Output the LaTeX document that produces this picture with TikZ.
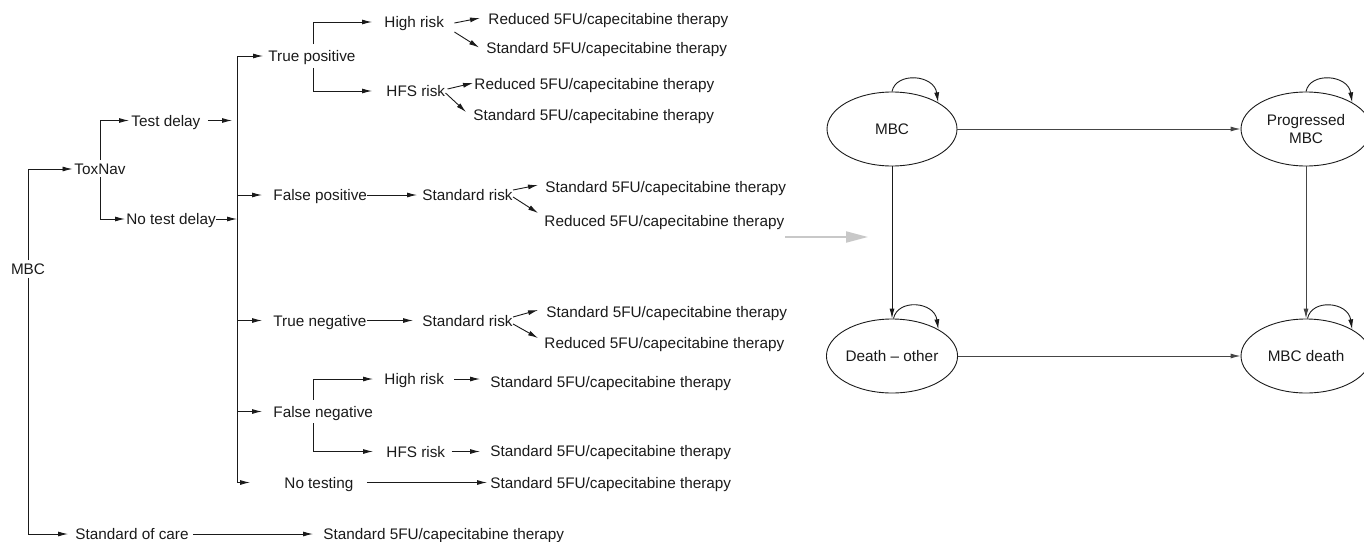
\documentclass[tikz,border=0pt]{standalone}
\usepackage{fontspec}
\setmainfont{Liberation Sans}
\usetikzlibrary{arrows.meta,shapes.geometric}
\definecolor{lnk}{HTML}{454545}
\definecolor{ghost}{HTML}{C8C8C8}
\definecolor{ink}{HTML}{1A1A1A}
\begin{document}
\begin{tikzpicture}[x=1pt,y=-1pt, line width=0.9pt, draw=ink,
  txt/.style={font=\fontsize{15.3}{18}\selectfont, text=ink, inner sep=0pt, text height=11pt, text depth=0pt, anchor=west},
  hub/.style={txt, inner ysep=6pt},
  arr/.style={-{Latex[length=10pt,width=5pt]}},
  arrg/.style={arr, draw=lnk},
  state/.style={ellipse, draw=ink, text=ink, line width=0.9pt, minimum width=130pt, minimum height=74pt, inner sep=0pt, align=center, font=\fontsize{15.3}{18}\selectfont}
]
\useasboundingbox (0,0) rectangle (1364,541);

% ---- decision tree nodes ----
\node[txt, anchor=center, inner ysep=3pt] (mbc) at (28,269) {MBC};
\node[hub, anchor=center, inner ysep=6pt] (tox) at (100,169) {ToxNav};
\node[txt] (soc) at (75,534) {Standard of care};
\node[txt] (socT) at (323,534) {Standard 5FU/capecitabine therapy};
\node[txt] (td) at (131,120.5) {Test delay};
\node[txt] (ntd) at (126,219) {No test delay};
\node[hub] (tp) at (268,56) {True positive};
\node[txt] (fp) at (273,195) {False positive};
\node[txt] (tn) at (273,320.5) {True negative};
\node[hub] (fn) at (273,411.5) {False negative};
\node[txt] (nt) at (284,482.5) {No testing};

\node[txt] (hra) at (384,22) {High risk};
\node[txt] (hraR) at (488,19) {Reduced 5FU/capecitabine therapy};
\node[txt] (hraS) at (486,47.5) {Standard 5FU/capecitabine therapy};
\node[txt] (hfa) at (386,91) {HFS risk};
\node[txt] (hfaR) at (474,84) {Reduced 5FU/capecitabine therapy};
\node[txt] (hfaS) at (473,115) {Standard 5FU/capecitabine therapy};

\node[txt] (sra) at (422,195) {Standard risk};
\node[txt] (sraS) at (545,187) {Standard 5FU/capecitabine therapy};
\node[txt] (sraR) at (544,221) {Reduced 5FU/capecitabine therapy};
\node[txt] (srb) at (422,320.5) {Standard risk};
\node[txt] (srbS) at (546,311.5) {Standard 5FU/capecitabine therapy};
\node[txt] (srbR) at (544,343) {Reduced 5FU/capecitabine therapy};

\node[txt] (hrb) at (384,379) {High risk};
\node[txt] (hrbS) at (490,381.5) {Standard 5FU/capecitabine therapy};
\node[txt] (hfb) at (386,451.5) {HFS risk};
\node[txt] (hfbS) at (490,451) {Standard 5FU/capecitabine therapy};
\node[txt] (ntS) at (490,482.5) {Standard 5FU/capecitabine therapy};

\coordinate (vtop) at (237,56);
\coordinate (vbot) at (237,482.5);

% ---- decision tree connectors ----
\draw[arr, shorten >=1.5pt] (mbc.north) |- (tox.west);
\draw[arr, shorten >=7pt] (mbc.south) |- (soc.west);
\draw[arr, shorten <=4pt, shorten >=10pt] (soc.east) -- (socT.west);
\draw[arr, shorten >=2pt] ([yshift=-3pt]tox.north) |- (td.west);
\draw[arr, shorten >=1pt] ([yshift=4pt]tox.south) |- (ntd.west);
\draw[arr, shorten <=7pt, shorten >=5pt] (td.east) -- (td.east -| vtop);
\draw[arr] (ntd.east) -- (ntd.east -| vtop);
\draw (vtop) -- (vbot);
\draw[arr, shorten >=5pt] (vtop) -- (tp.west);
\draw[arr, shorten >=11pt] (fp.west -| vtop) -- (fp.west);
\draw[arr, shorten >=11pt] (tn.west -| vtop) -- (tn.west);
\draw[arr, shorten >=11pt] (fn.west -| vtop) -- (fn.west);
\draw[arr, shorten >=34pt] (vbot) -- (nt.west);

% true positive
\draw[arr, shorten >=12pt] ([xshift=1pt]tp.north) |- (hra.west);
\draw[arr, shorten >=14pt] ([xshift=1pt]tp.south) |- (hfa.west);
\draw[arr] ([xshift=10pt,yshift=-1pt]hra.east) -- ([xshift=-8pt,yshift=1pt]hraR.west);
\draw[arr] ([xshift=10pt,yshift=-10pt]hra.east) -- ([xshift=-7pt]hraS.west);
\draw[arr] ([xshift=2pt,yshift=2pt]hfa.east) -- ([xshift=-1pt,yshift=1pt]hfaR.west);
\draw[arr] ([xshift=0pt,yshift=-2pt]hfa.east) -- ([xshift=-7pt,yshift=3pt]hfaS.west);

% false positive
\draw[arr, shorten >=5pt] (fp.east) -- (sra.west);
\draw[arr] ([xshift=0pt,yshift=5pt]sra.east) -- ([xshift=-7pt,yshift=2pt]sraS.west);
\draw[arr] ([xshift=0pt,yshift=-2pt]sra.east) -- ([xshift=-6pt,yshift=8pt]sraR.west);

% true negative
\draw[arr, shorten >=9pt] (tn.east) -- (srb.west);
\draw[arr] ([xshift=0pt,yshift=3.5pt]srb.east) -- ([xshift=-8pt,yshift=1.5pt]srbS.west);
\draw[arr] ([xshift=0pt,yshift=-3.5pt]srb.east) -- ([xshift=-6pt,yshift=5pt]srbR.west);

% false negative
\draw[arr, shorten >=11pt] ([xshift=-9.5pt]fn.north) |- (hrb.west);
\draw[arr, shorten >=13pt] ([xshift=-9.5pt]fn.south) |- (hfb.west);
\draw[arr, shorten <=10pt, shorten >=10pt] (hrb.east) -- (hrb.east -| hrbS.west);
\draw[arr, shorten <=6pt, shorten >=10pt] (hfb.east) -- (hfb.east -| hfbS.west);

% no testing
\draw[arr, shorten <=13pt, shorten >=3pt] (nt.east) -- (ntS.west);

% ---- gray link arrow ----
\coordinate (ga) at (785,237);
\coordinate (gb) at (868,237);
\draw[draw=ghost, fill=ghost, line width=2pt, -{Triangle[length=22pt,width=11pt]}] (ga) -- (gb);

% ---- state diagram ----
\node[state] (e1) at (892,129) {MBC};
\node[state] (e2) at (1306,129) {Progressed\\[-0.5pt]MBC};
\node[state] (e3) at (892,356) {Death \textendash{} other};
\node[state] (e4) at (1306,356) {MBC death};

\draw[arrg] (e1) -- (e2);
\draw[arr] (e1) -- (e3);
\draw[arrg] (e2) -- (e4);
\draw[arrg] (e3) -- (e4);

\draw[arr] (e1.north) .. controls +(4,-20) and +(-4,-28) .. (e1.30);
\draw[arr] (e2.north) .. controls +(4,-20) and +(-4,-28) .. (e2.30);
\draw[arr] ([xshift=1.5pt]e3.north) .. controls +(4,-20) and +(-4,-28) .. (e3.30);
\draw[arr] ([xshift=1.5pt]e4.north) .. controls +(4,-20) and +(-4,-28) .. (e4.30);
\end{tikzpicture}
\end{document}
